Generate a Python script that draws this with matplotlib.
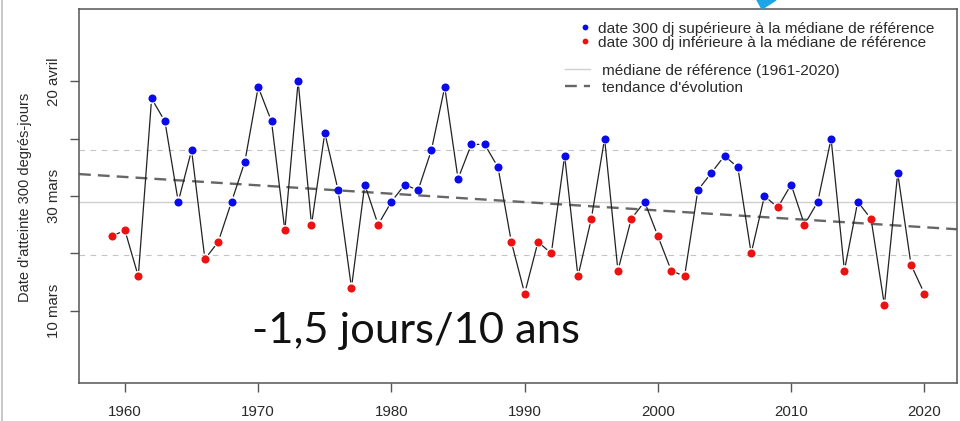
import numpy as np
import matplotlib
matplotlib.use("Agg")
import matplotlib.pyplot as plt
from matplotlib.lines import Line2D
from matplotlib.patches import Polygon

# ---- data (day of year of reaching 300 degree-days) ----
years = list(range(1959, 2021))
days = [82, 83, 75, 106, 102, 88, 97, 78, 81, 88, 95, 108,   # 1959-1970
        102, 83, 109, 84, 100, 90, 73, 91, 84, 88,             # 1971-1980
        91, 90, 97, 108, 92, 98, 98, 94, 81, 72,               # 1981-1990
        81, 79, 96, 75, 85, 99, 76, 85, 88, 82,                # 1991-2000
        76, 75, 90, 93, 96, 94, 79, 89, 87, 91,                # 2001-2010
        84, 88, 99, 76, 88, 85, 70, 93, 77, 72]                # 2011-2020
ref_start, ref_end = 1961, 2020
trend_slope = -0.146          # days per year (-1,5 jours / 10 ans)
trend_ref_year = 1990
trend_ref_value = 87.94

ytick_vals = [69, 79, 89, 99, 109]
ytick_labels = ["10 mars", "", "30 mars", "", "20 avril"]
xtick_vals = [1960, 1970, 1980, 1990, 2000, 2010, 2020]

legend_labels = ["date 300 dj supérieure à la médiane de référence",
                 "date 300 dj inférieure à la médiane de référence",
                 "médiane de référence (1961-2020)",
                 "tendance d'évolution"]

years_a = np.array(years)
days_a = np.array(days, dtype=float)
ref_mask = (years_a >= ref_start) & (years_a <= ref_end)
median = np.median(days_a[ref_mask])
q20, q80 = np.percentile(days_a[ref_mask], [20, 80])

BLUE = "#0b0bea"
RED = "#ec1212"
TXT = "#2a2a2a"
AX = "#555555"

plt.rcParams["font.family"] = ["Liberation Sans", "DejaVu Sans"]

fig = plt.figure(figsize=(9.6, 4.21), dpi=100)
W, H = 960, 421
ax = fig.add_axes([79 / W, 1 - 383 / H, (957 - 79) / W, (383 - 9) / H])

x0, x1 = 1956.55, 2022.45
ax.set_xlim(x0, x1)
ax.set_ylim(56.4, 121.6)

# reference lines
ax.axhline(median, color="#cfcfcf", lw=1.0, zorder=1)
for q in (q20, q80):
    ax.axhline(q, color="#c4c4c4", lw=0.8, ls=(0, (5, 5)), zorder=1)

# trend
tx = np.array([x0, x1])
ty = trend_ref_value + trend_slope * (tx - trend_ref_year)
ax.plot(tx, ty, color="#666666", lw=1.7, ls=(0, (5, 3)), zorder=2)

# connecting line (type "b": gaps around points)
for i in range(len(years) - 1):
    ax.annotate("", xy=(years[i + 1], days[i + 1]), xytext=(years[i], days[i]),
                arrowprops=dict(arrowstyle="-", color="#222222", lw=0.9,
                                shrinkA=4.2, shrinkB=4.2), zorder=3)

above = days_a >= median
ax.plot(years_a[above], days_a[above], "o", color=BLUE, ms=5.8, mec="none", zorder=4)
ax.plot(years_a[~above], days_a[~above], "o", color=RED, ms=5.8, mec="none", zorder=4)

# axes styling
for s in ax.spines.values():
    s.set_color(AX)
    s.set_linewidth(1.1)
ax.set_xticks(xtick_vals)
ax.set_xticklabels([str(v) for v in xtick_vals])
ax.set_yticks(ytick_vals)
ax.set_yticklabels(ytick_labels, rotation=90, va="center")
ax.tick_params(axis="both", direction="out", length=6.5, width=1.0, color=AX,
               labelcolor=TXT, labelsize=10.8)
ax.tick_params(axis="x", pad=9.5)
ax.tick_params(axis="y", pad=6.5)

fig.text(25 / W, 1 - 197 / H, "Date d'atteinte 300 degrés-jours", rotation=90,
         ha="center", va="center", fontsize=10.5, color=TXT)

# legends
LFS = 11.1
h1 = [Line2D([], [], ls="none", marker="o", color=BLUE, ms=4.2, mec="none"),
      Line2D([], [], ls="none", marker="o", color=RED, ms=4.2, mec="none")]
leg1 = ax.legend(h1, legend_labels[:2], loc="upper left",
                 bbox_to_anchor=(579 / W, 1 - 21.5 / H), bbox_transform=fig.transFigure,
                 frameon=False, fontsize=LFS, borderpad=0, borderaxespad=0,
                 handlelength=0.75, handletextpad=0.5, labelspacing=0.0,
                 labelcolor=TXT)
ax.add_artist(leg1)
h2 = [Line2D([], [], color="#cfcfcf", lw=1.0),
      Line2D([], [], color="#666666", lw=1.7, ls=(0, (5, 3)))]
ax.legend(h2, legend_labels[2:], loc="upper left",
          bbox_to_anchor=(565 / W, 1 - 63.5 / H), bbox_transform=fig.transFigure,
          frameon=False, fontsize=LFS, borderpad=0, borderaxespad=0,
          handlelength=1.65, handletextpad=0.75, labelspacing=0.22,
          labelcolor=TXT)

# annotation
fig.text(252 / W, 1 - 343 / H, "-1,5 jours/10 ans", fontsize=31.3,
         family=["Lato", "DejaVu Sans"], color="#111111", ha="left", va="baseline")

# frame artifacts of the screenshot
fig.add_artist(Line2D([1.5 / W, 1.5 / W], [0, 1], transform=fig.transFigure,
                      color="#bdbdbd", lw=1.2))
fig.add_artist(Polygon([(757 / W, 1), (776 / W, 1), (762 / W, 1 - 9 / H)],
                       closed=True, transform=fig.transFigure,
                       color="#1ea5e6", zorder=10))

fig.savefig("out.png", dpi=100)
